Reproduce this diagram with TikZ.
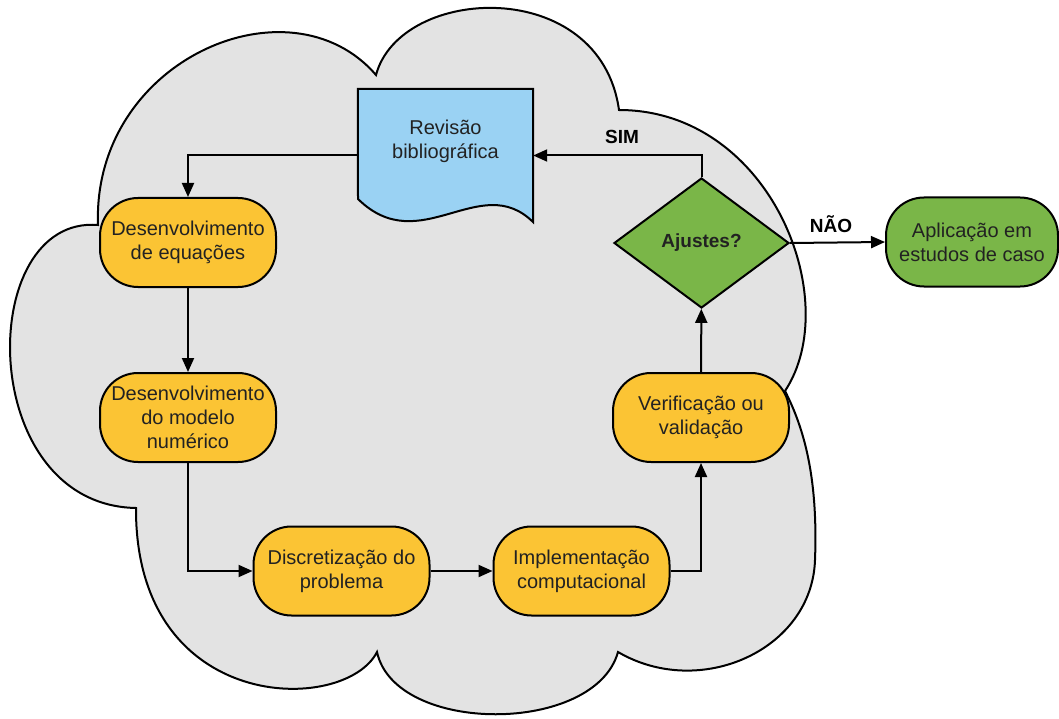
\documentclass[tikz,border=0pt]{standalone}
\usepackage{fontspec}
\setmainfont{Liberation Sans}
\usetikzlibrary{arrows.meta,shapes.geometric}
\definecolor{cloudgray}{HTML}{E3E3E3}
\definecolor{boxyellow}{HTML}{FBC434}
\definecolor{docblue}{HTML}{9AD2F3}
\definecolor{boxgreen}{HTML}{7AB648}
\definecolor{txtcol}{HTML}{222222}
\tikzset{
  base/.style={line width=2pt, draw=black, text=txtcol, font=\fontsize{20}{24}\selectfont, align=center, inner sep=0pt},
  term/.style={base, fill=boxyellow, rounded corners=38pt, minimum width=176pt, minimum height=89pt},
  termg/.style={term, fill=boxgreen, minimum width=172pt},
  dec/.style={base, diamond, fill=boxgreen, minimum width=175pt, minimum height=130pt, aspect=1.346, font=\fontsize{19}{23}\selectfont\bfseries},
  arr/.style={line width=2pt, -{Triangle[length=14pt,width=12pt]}},
  lbl/.style={text=black, font=\fontsize{19}{23}\selectfont\bfseries, inner sep=0pt},
}
\begin{document}
\begin{tikzpicture}[x=1pt,y=-1pt]
\useasboundingbox (0,0) rectangle (1059,719);
% cloud
\draw[line width=2pt, fill=cloudgray]
  (98,225) .. controls (92,60) and (290,-25) .. (376,75)
  .. controls (400,-15) and (600,-25) .. (619,110)
  .. controls (770,110) and (845,300) .. (785,391)
  .. controls (805,430) and (818,480) .. (815,560)
  .. controls (812,650) and (700,700) .. (618,652)
  .. controls (595,735) and (395,735) .. (377,652)
  .. controls (345,715) and (135,715) .. (136,508)
  .. controls (-25,505) and (-25,215) .. cycle;
% document
\node[inner sep=0pt, minimum width=175pt, minimum height=133pt] (rev) at (445.5,155.5) {};
\draw[line width=2pt, fill=docblue] (rev.north west) -- (rev.north east) -- (533,222)
  .. controls (480,170) and (420,260) .. (358,199) -- cycle;
\node[base, draw=none] (revtxt) at (445.5,141) {Revisão\\bibliográfica};
% boxes
\node[term] (deq) at (188,242.5) {Desenvolvimento\\de equações};
\node[term] (dmn) at (188,417.5) {Desenvolvimento\\do modelo\\numérico};
\node[term] (disc) at (341.5,571) {Discretização do\\problema};
\node[term] (impl) at (581.5,571) {Implementação\\computacional};
\node[term] (ver) at (701,417.5) {Verificação ou\\validação};
\node[dec] (aj) at (701.5,243) {Ajustes?};
\node[termg] (apl) at (972,242) {Aplicação em\\estudos de caso};
% connectors
\draw[arr] (rev.west) -| (deq.north);
\draw[arr] (deq) -- (dmn);
\draw[arr] (dmn.south) |- (disc.west);
\draw[arr] (disc) -- (impl);
\draw[arr] (impl.east) -| (ver.south);
\draw[arr] (ver) -- (aj);
\draw[arr] (aj.north) |- (rev.east);
\draw[arr] (aj.east) -- (apl.west);
% labels
\node[lbl] (sim) at (622,137) {SIM};
\node[lbl] (nao) at (831,224) {NÃO};
\end{tikzpicture}
\end{document}
